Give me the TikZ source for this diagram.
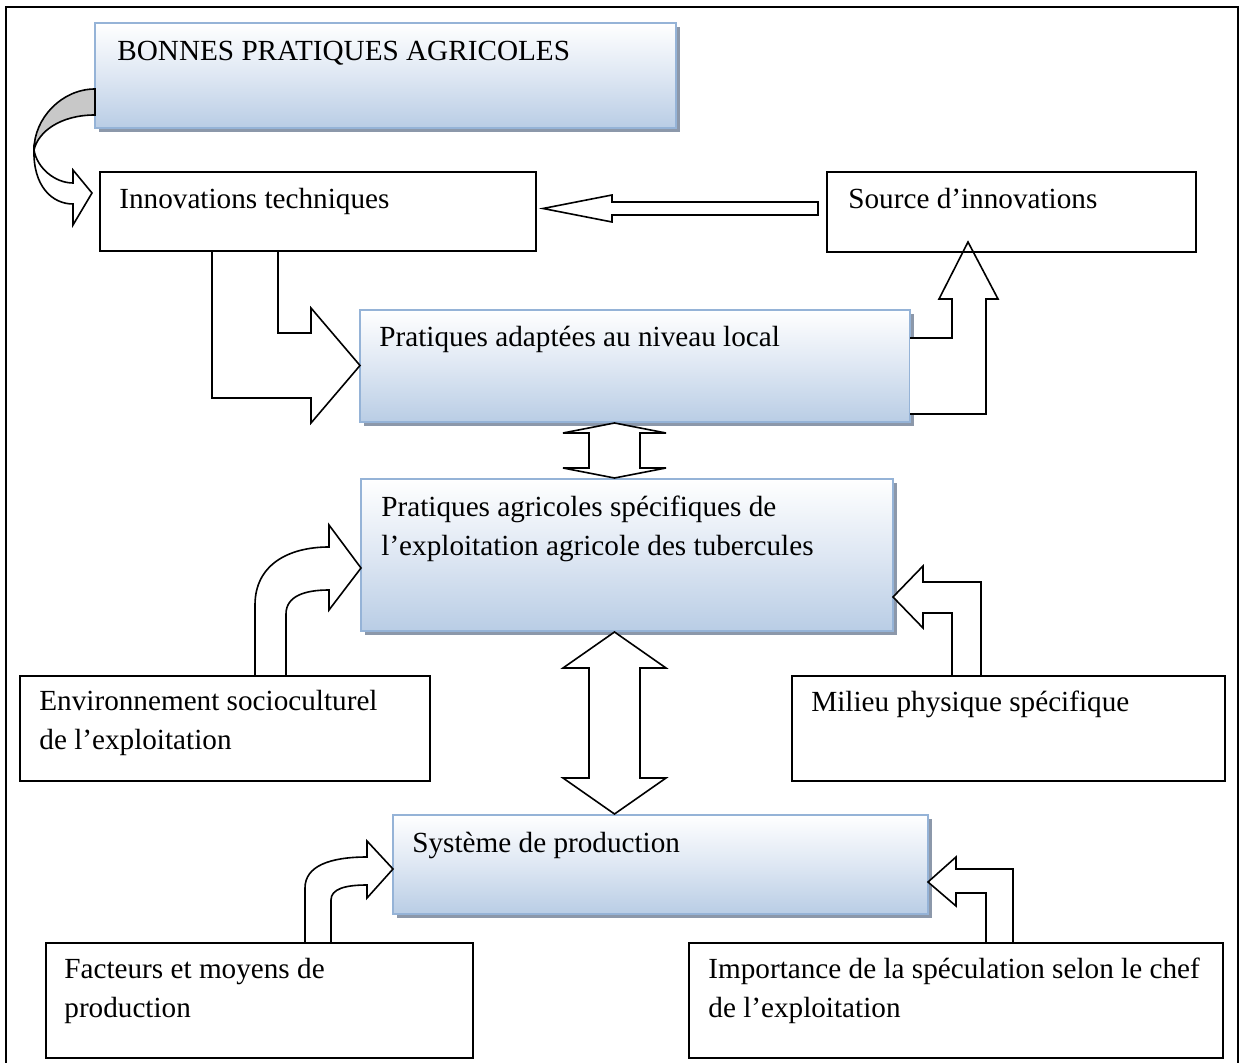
\documentclass[tikz,border=0pt]{standalone}
\usepackage{fontspec}
\setmainfont{Liberation Serif}
\usetikzlibrary{positioning}
\usetikzlibrary{fit}
\usetikzlibrary{shadows}
\definecolor{boxblue}{RGB}{185,205,229}
\definecolor{boxmid}{RGB}{222,231,243}
\definecolor{boxline}{RGB}{149,179,215}
\definecolor{boxshade}{RGB}{140,152,170}
\definecolor{backgray}{RGB}{200,200,200}
\tikzstyle{P} = [rectangle,draw,line width=1pt,inner sep=0pt]
\tikzstyle{G} = [rectangle,draw=boxline,line width=1pt,inner sep=0pt,
	top color=white,bottom color=boxblue,middle color=boxmid,
	drop shadow={shadow xshift=1.8pt,shadow yshift=-2.2pt,fill=boxshade,opacity=1}]
\tikzstyle{T} = [anchor=base west,inner sep=0pt,align=left,font=\fontsize{14.6}{19.3}\selectfont]
\tikzstyle{A} = [draw,fill=white,line width=0.8pt,line join=miter]

\begin{document}
\begin{tikzpicture}[x=0.5pt,y=-0.5pt]
	\useasboundingbox (0,0) rectangle (1241,1063);
	\draw [line width=0.8pt] (6,1063) -- (6,7) -- (1238,7) -- (1238,1063);
	
	%%%%%%%%%% shaded boxes
	\node [G,fit={(95,23) (676,128)}] (bpa) {};
	\node [G,fit={(360,310) (910,422)}] (pad) {};
	\node [G,fit={(361,479) (893,631)}] (pas) {};
	\node [G,fit={(393,815) (928,914)}] (sys) {};
	
	%%%%%%%%%% block arrows
	% bonnes pratiques -> innovations
	\draw [A,fill=backgray] (95,89) .. controls (62,89) and (34,118) .. (34,150)
		.. controls (38,132) and (60,115) .. (95,115) -- cycle;
	\draw [A] (34,150) .. controls (33,186) and (52,204) .. (73,204) -- (73,225) -- (92,193)
		-- (73,170) -- (73,183) .. controls (55,183) and (37,168) .. (34,150) -- cycle;
	% source -> innovations
	\draw [A] (818,202) -- (612,202) -- (612,195) -- (543,208.5) -- (612,222) -- (612,215)
		-- (818,215) -- cycle;
	% innovations -> pratiques adaptees
	\draw [A] (212,251) -- (212,398) -- (311,398) -- (311,423) -- (360,365.5) -- (311,308)
		-- (311,333) -- (278,333) -- (278,251);
	% pratiques adaptees -> source
	\draw [A] (910,338) -- (952,338) -- (952,299) -- (939,299) -- (968,242) -- (998,299)
		-- (986,299) -- (986,414) -- (910,414);
	% pratiques adaptees <-> pratiques specifiques
	\draw [A] (614.5,423) -- (666,433) -- (640,433) -- (640,468) -- (666,468) -- (614.5,478)
		-- (563,468) -- (589,468) -- (589,433) -- (563,433) -- cycle;
	% environnement -> pratiques specifiques
	\draw [A] (255,676) -- (255,605) .. controls (255,565) and (288,547) .. (329,547) -- (329,525)
		-- (361,568) -- (329,610) -- (329,590) .. controls (305,590) and (286,596) .. (286,614)
		-- (286,676);
	% milieu -> pratiques specifiques
	\draw [A] (981,676) -- (981,582) -- (923,582) -- (923,566) -- (893,597) -- (923,628)
		-- (923,613) -- (952,613) -- (952,676);
	% pratiques specifiques <-> systeme
	\draw [A] (614.5,632) -- (666,668) -- (640,668) -- (640,778) -- (666,778) -- (614.5,814)
		-- (563,778) -- (589,778) -- (589,668) -- (563,668) -- cycle;
	% facteurs -> systeme
	\draw [A] (305,943) -- (305,888) .. controls (305,866) and (330,857) .. (367,857) -- (367,841)
		-- (393,869) -- (367,898) -- (367,885) .. controls (345,885) and (331,889) .. (331,900)
		-- (331,943);
	% importance -> systeme
	\draw [A] (1013,943) -- (1013,869) -- (956,869) -- (956,857) -- (928,882) -- (956,906)
		-- (956,893) -- (986,893) -- (986,943);
	
	%%%%%%%%%% plain boxes
	\node [P,fit={(100,172) (536,251)}] (innov) {};
	\node [P,fit={(827,172) (1196,252)}] (src) {};
	\node [P,fit={(20,676) (430,781)}] (env) {};
	\node [P,fit={(792,676) (1225,781)}] (mil) {};
	\node [P,fit={(46,943) (473,1058)}] (fac) {};
	\node [P,fit={(689,943) (1223,1058)}] (imp) {};
	
	%%%%%%%%%% texts (base of the last line)
	\node [T] (bpaT) at ([shift={(23,39)}]bpa.north west) {BONNES PRATIQUES AGRICOLES};
	\node [T] (innovT) at ([shift={(20,38)}]innov.north west) {Innovations techniques};
	\node [T] (srcT) at ([shift={(22,38)}]src.north west) {Source d’innovations};
	\node [T] (padT) at ([shift={(20,38)}]pad.north west) {Pratiques adaptées au niveau local};
	\node [T] (pasT) at ([shift={(21,77)}]pas.north west) {Pratiques agricoles spécifiques de\\l’exploitation agricole des tubercules};
	\node [T] (envT) at ([shift={(20,74.5)}]env.north west) {Environnement socioculturel\\de l’exploitation};
	\node [T] (milT) at ([shift={(20,36)}]mil.north west) {Milieu physique spécifique};
	\node [T] (sysT) at ([shift={(20,38)}]sys.north west) {Système de production};
	\node [T] (facT) at ([shift={(19,75.5)}]fac.north west) {Facteurs et moyens de\\production};
	\node [T] (impT) at ([shift={(20,75.5)}]imp.north west) {Importance de la spéculation selon le chef\\de l’exploitation};
	
\end{tikzpicture}
\end{document}
